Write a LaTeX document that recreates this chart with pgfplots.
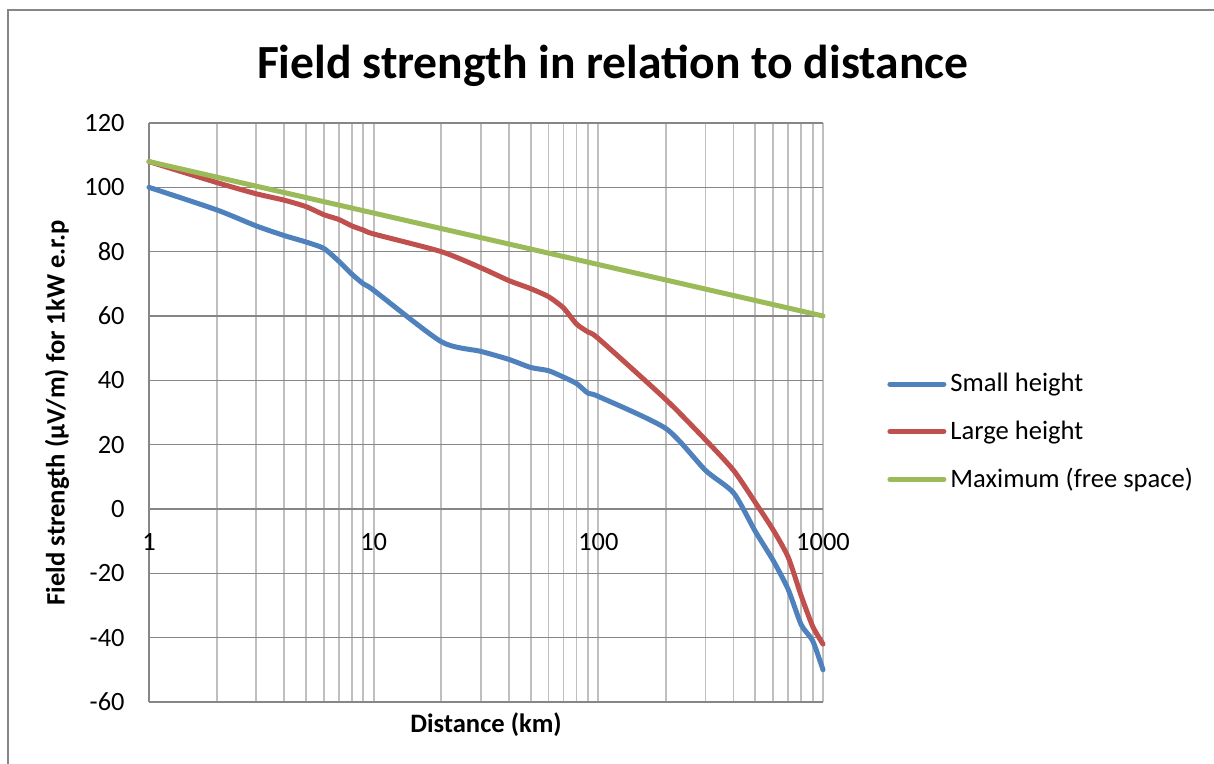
\documentclass[border=0pt]{standalone}
\usepackage{fontspec}
\setmainfont{Carlito}
\usepackage{pgfplots}
\pgfplotsset{compat=1.18}
\definecolor{cblue}{HTML}{4F81BD}
\definecolor{cred}{HTML}{C0504D}
\definecolor{cgreen}{HTML}{9BBB59}
\definecolor{gridmaj}{HTML}{868686}
\definecolor{gridmin}{HTML}{BFBFBF}
\begin{document}
\begin{tikzpicture}[font=\fontsize{13}{15}\selectfont]
\useasboundingbox (0,0) rectangle (607pt,382pt);
\draw[gridmaj, line width=0.8pt] (4pt,-5pt) -- (4pt,377pt) -- (612pt,377pt);
\begin{axis}[
  at={(74.5pt,31pt)}, anchor=south west,
  scale only axis, width=337pt, height=289.5pt,
  xmode=log, xmin=1, xmax=1000, ymin=-60, ymax=120,
  xtick={1,10,100,1000}, xticklabels={1,10,100,1000},
  minor xtick={2,3,4,5,6,7,8,9,20,30,40,50,60,70,80,90,200,300,400,500,600,700,800,900},
  ytick={-60,-40,-20,0,20,40,60,80,100,120},
  hide obscured x ticks=false, hide obscured y ticks=false,
  /pgf/number format/assume math mode=true,
  axis x line=middle, axis y line=left,
  axis line style={draw=gridmaj, line width=0.8pt, -},
  major tick length=0pt, minor tick length=0pt,
  xmajorgrids=true, xminorgrids=true, ymajorgrids=true,
  x grid style={draw=gridmin, line width=0.9pt},
  minor x grid style={draw=gridmin, line width=0.9pt},
  y grid style={draw=gridmaj, line width=0.8pt},
  x tick label style={yshift=-8.7pt, font=\fontsize{13.2}{15}\selectfont},
  y tick label style={xshift=-8.7pt, font=\fontsize{13.2}{15}\selectfont},
  xlabel={\textbf{Distance (km)}},
  xlabel style={at={(axis description cs:0.5,0)}, anchor=center, yshift=-11.5pt, font=\fontsize{13.3}{15}\selectfont},
  ylabel={\textbf{Field strength (µV/m) for 1kW e.r.p}},
  ylabel style={at={(axis description cs:-0.1365,0.5)}, anchor=center, font=\fontsize{13.3}{15}\selectfont},
  title={\textbf{Field strength in relation to distance}},
  title style={at={(axis description cs:0.688,1)}, anchor=center, yshift=22.5pt, font=\fontsize{23.8}{28}\selectfont},
  clip=false,
  legend style={at={(axis description cs:1,0.5)}, anchor=west, xshift=32pt, yshift=-9.75pt,
    draw=none, fill=none, inner sep=0pt, row sep=9pt, font=\fontsize{13.3}{15}\selectfont,
    cells={anchor=west}},
  legend image code/.code={\draw[#1] (0pt,0pt) -- (27pt,0pt);},
  every axis plot/.append style={line width=2.5pt, line cap=round, line join=round},
]
\addplot[cblue, smooth, tension=0.4] coordinates {
 (1,100) (2,93) (3,88) (4,85) (5,83) (6,81) (7,77) (8,73) (9,70) (10,68)
 (20,52) (30,49) (40,46.5) (50,44) (60,43) (70,41) (80,39) (90,36) (100,35)
 (200,25) (300,12) (400,5) (500,-7) (600,-16) (700,-25) (800,-36) (900,-41) (1000,-50)
};
\addlegendentry{Small height}
\addplot[cred, smooth, tension=0.4] coordinates {
 (1,108) (2,101.5) (3,98) (4,96) (5,94) (6,91.5) (7,90) (8,88) (9,86.7) (10,85.5)
 (20,80) (30,75) (40,71) (50,68.5) (60,66) (70,62.5) (80,57.5) (90,55) (100,53)
 (200,34) (300,21.5) (400,12) (500,2) (600,-6.5) (700,-15) (800,-27) (900,-36.5) (1000,-42)
};
\addlegendentry{Large height}
\addplot[cgreen] coordinates {
 (1,108) (10,92) (100,76) (1000,60)
};
\addlegendentry{Maximum (free space)}
\end{axis}
\end{tikzpicture}
\end{document}
